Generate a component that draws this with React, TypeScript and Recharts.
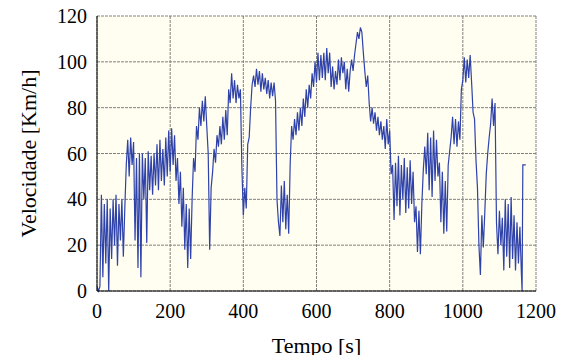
import { LineChart, Line, XAxis, YAxis, CartesianGrid } from 'recharts'

// sample step of the drive cycle (s)
const STEP = 4

// speed samples every 4 s, t = 0 .. 1160
const speed = [
  2, 0, 2, 42, 6, 38, 12, 40, 0, 36,
  14, 40, 20, 42, 11, 38, 22, 40, 15, 36,
  55, 66, 50, 67, 55, 65, 22, 58, 10, 60,
  6, 60, 40, 58, 21, 61, 44, 59, 42, 60,
  46, 64, 44, 66, 48, 62, 46, 67, 50, 70,
  52, 71, 55, 68, 48, 58, 38, 52, 28, 45,
  18, 38, 10, 36, 14, 40, 58, 52, 72, 66,
  80, 72, 83, 74, 85, 72, 60, 18, 45, 52,
  62, 56, 68, 63, 72, 64, 76, 66, 79, 68,
  88, 82, 95, 84, 92, 82, 90, 84, 88, 54,
  33, 45, 36, 64, 67, 80, 90, 94, 89, 97,
  90, 96, 87, 95, 88, 93, 86, 92, 84, 91,
  85, 91, 83, 40, 30, 24, 46, 30, 48, 27,
  42, 25, 55, 72, 66, 75, 68, 78, 70, 80,
  72, 84, 76, 88, 80, 90, 84, 95, 89, 100,
  91, 104, 92, 103, 93, 104, 92, 106, 95, 104,
  89, 98, 88, 96, 90, 101, 92, 102, 95, 100,
  88, 97, 87, 96, 101, 96, 103, 108, 113, 110,
  115, 113, 104, 96, 89, 94, 82, 74, 80, 73,
  78, 70, 76, 68, 74, 66, 72, 62, 75, 64,
  70, 51, 55, 31, 56, 37, 59, 33, 55, 40,
  58, 34, 54, 36, 57, 38, 52, 30, 37, 17,
  35, 16, 38, 53, 63, 51, 69, 44, 67, 41,
  70, 48, 66, 50, 56, 30, 52, 25, 48, 26,
  55, 61, 67, 76, 64, 75, 63, 74, 66, 88,
  92, 102, 91, 101, 93, 103, 91, 78, 75, 57,
  45, 20, 7, 33, 19, 34, 51, 60, 67, 73,
  84, 72, 82, 30, 16, 35, 20, 32, 9, 40,
  15, 38, 10, 41, 14, 33, 9, 30, 12, 28,
  8,
]

// last seconds of the cycle
const tailTempo = [1162, 1164, 1172]
const tailSpeed = [0, 55, 55]

const xTicks = [0, 200, 400, 600, 800, 1000, 1200]
const yTicks = [0, 20, 40, 60, 80, 100, 120]

const data = [
  ...speed.map((v, i) => ({ t: i * STEP, v })),
  ...tailTempo.map((t, i) => ({ t, v: tailSpeed[i] })),
]

const serif = '"Liberation Serif", "Times New Roman", serif'
const font = { fontFamily: serif, fill: '#000', style: { fontFamily: serif } }

export default function App() {
  return (
    <div style={{ width: 568, height: 363, margin: -8, fontFamily: serif }}>
      <LineChart
        width={568}
        height={363}
        data={data}
        margin={{ top: 16, right: 32, left: 0, bottom: 0 }}
      >
        <CartesianGrid
          stroke="#808080"
          strokeDasharray="3 1"
          fill="#fffef0"
          fillOpacity={1}
        />
        <XAxis
          type="number"
          dataKey="t"
          domain={[0, 1200]}
          ticks={xTicks}
          interval={0}
          height={72}
          tickSize={0}
          tickMargin={13}
          axisLine={{ stroke: '#000' }}
          tick={{ ...font, fontSize: 20 }}
          label={{ value: 'Tempo [s]', position: 'insideBottom', offset: 10, style: { fontFamily: serif, fill: '#000', fontSize: 22 } }}
        />
        <YAxis
          type="number"
          domain={[0, 120]}
          ticks={yTicks}
          interval={0}
          width={97}
          tickSize={0}
          tickMargin={10}
          axisLine={{ stroke: '#000' }}
          tick={{ ...font, fontSize: 20 }}
          label={{ value: 'Velocidade [Km/h]', angle: -90, position: 'insideLeft', offset: 28, style: { fontFamily: serif, fill: '#000', fontSize: 22, textAnchor: 'middle' } }}
        />
        <Line
          type="linear"
          dataKey="v"
          stroke="#2f42aa"
          strokeWidth={1.2}
          dot={false}
          isAnimationActive={false}
        />
      </LineChart>
    </div>
  )
}
